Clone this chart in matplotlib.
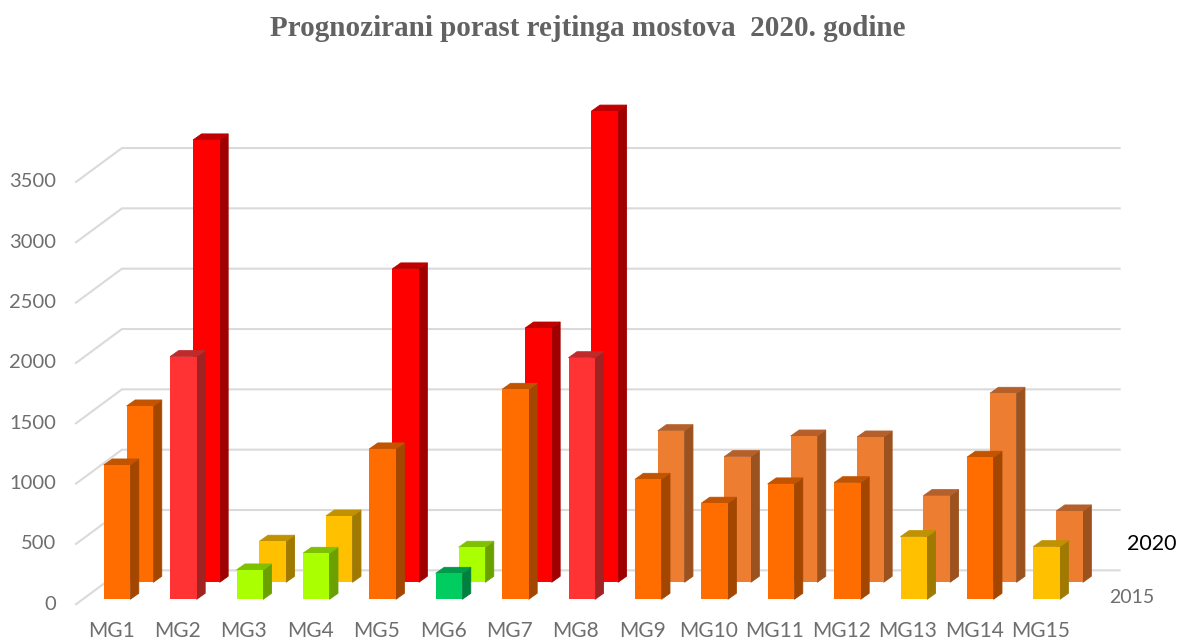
import numpy as np
import matplotlib
matplotlib.use('Agg')
import matplotlib.pyplot as plt

# values
groups = ['MG1', 'MG2', 'MG3', 'MG4', 'MG5', 'MG6', 'MG7', 'MG8',
          'MG9', 'MG10', 'MG11', 'MG12', 'MG13', 'MG14', 'MG15']
y2015 = [1113, 2011, 243, 381, 1246, 215, 1740, 2002,
         994, 796, 956, 966, 519, 1177, 436]
y2020 = [1461, 3666, 340, 549, 2597, 290, 2107, 3905,
         1256, 1041, 1212, 1204, 718, 1566, 591]
yticks = [0, 500, 1000, 1500, 2000, 2500, 3000, 3500]

ORANGE = ('#FF6D00', '#A34600', '#C25400')
ORANGE2 = ('#ED7D31', '#9C521F', '#B5602A')
RED = ('#FF0000', '#A00000', '#C00000')
RED2 = ('#FF3333', '#A02222', '#C02A2A')
LIME = ('#AAFF00', '#6AA000', '#7FC000')
GREEN = ('#00CC60', '#00803E', '#009A4A')
YELLOW = ('#FFC000', '#A07900', '#C09100')

col2015 = [ORANGE, RED2, LIME, LIME, ORANGE, GREEN, ORANGE, RED2,
           ORANGE, ORANGE, ORANGE, ORANGE, YELLOW, ORANGE, YELLOW]
col2020 = [ORANGE, RED, YELLOW, YELLOW, RED, LIME, RED, RED,
           ORANGE2, ORANGE2, ORANGE2, ORANGE2, ORANGE2, ORANGE2, ORANGE2]

# fake 3d geometry, x in category units, y in value units
bar_w = 0.40
side_dx = 0.128
side_dy = 50
back_dx = 0.346
back_dy = 141
wall_dy = 240
wall_x0 = 0.075
wall_x1 = 15.1
front_x0 = -0.617

fig = plt.figure(figsize=(11.79, 6.41), dpi=100)
ax = fig.add_axes([0, 0, 1, 1])
ax.set_xlim(-117 / 66.4, (1179 - 117) / 66.4)
ax.set_ylim((599.3 - 641) / 0.12066, 599.3 / 0.12066)
ax.axis('off')

# gridlines on floor side and back wall
for t in yticks:
    ax.plot([front_x0, wall_x0, wall_x1], [t - 41, t + wall_dy, t + wall_dy],
            color='#DADADA', lw=1.5, zorder=1, solid_joinstyle='miter')


def draw_bars(xs, vals, base, colors, z):
    for x, v, c in zip(xs, vals, colors):
        l = x - bar_w / 2
        r = x + bar_w / 2
        top = base + v
        ax.fill([r, r + side_dx, r + side_dx, r],
                [base, base + side_dy, top + side_dy, top],
                facecolor=c[1], edgecolor=c[1], lw=0.6, zorder=z)
        ax.fill([l, l + side_dx, r + side_dx, r],
                [top, top + side_dy, top + side_dy, top],
                facecolor=c[2], edgecolor=c[2], lw=0.6, zorder=z)
        ax.bar(x, v, bar_w, bottom=base, color=c[0], zorder=z)


x = np.arange(len(groups))
draw_bars(x + back_dx, y2020, back_dy, col2020, 2)
draw_bars(x, y2015, 0, col2015, 3)

gray = '#6E6E6E'
for t in yticks:
    ax.text(-0.92, t - 41, str(t), ha='right', va='center', fontsize=14.5,
            family='Lato', color=gray)
for i, g in enumerate(groups):
    ax.text(i - 0.09, -263, g, ha='center', va='center', fontsize=15,
            family='Lato', color=gray)
ax.text(15.28, 17, '2015', ha='center', va='center', fontsize=14,
        family='Lato', color=gray)
ax.text(15.58, 458, '2020', ha='center', va='center', fontsize=15.5,
        family='Lato', color='black')

fig.text(588 / 1179, 1 - 29 / 641, 'Prognozirani porast rejtinga mostova  2020. godine',
         ha='center', va='center', fontsize=21, fontweight='bold',
         family='Liberation Serif', color='#626262')

fig.savefig('out.png', dpi=100)
